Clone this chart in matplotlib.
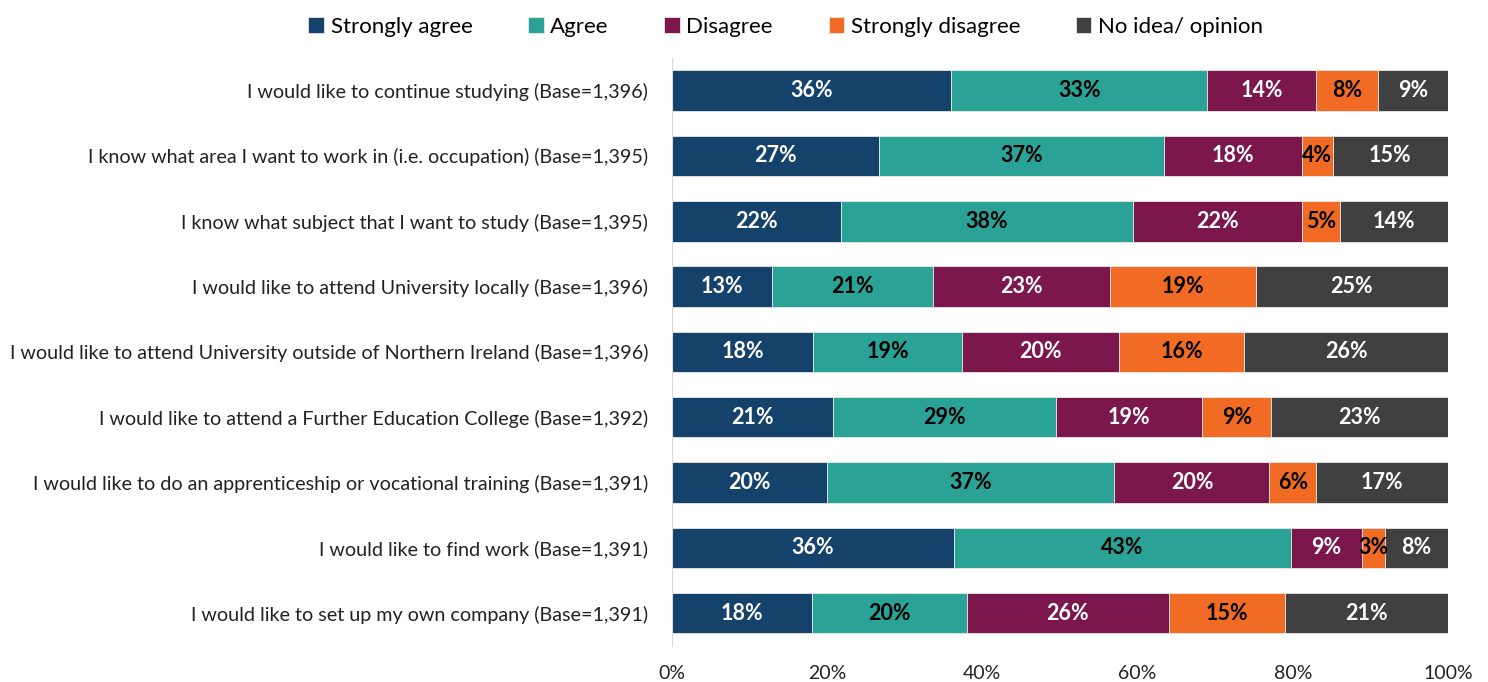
import numpy as np
import matplotlib.pyplot as plt
from matplotlib.ticker import PercentFormatter

plt.rcParams['font.family'] = ['Lato', 'DejaVu Sans']

categories = [
    "I would like to continue studying (Base=1,396)",
    "I know what area I want to work in (i.e. occupation) (Base=1,395)",
    "I know what subject that I want to study (Base=1,395)",
    "I would like to attend University locally (Base=1,396)",
    "I would like to attend University outside of Northern Ireland (Base=1,396)",
    "I would like to attend a Further Education College (Base=1,392)",
    "I would like to do an apprenticeship or vocational training (Base=1,391)",
    "I would like to find work (Base=1,391)",
    "I would like to set up my own company (Base=1,391)",
]
series_names = ["Strongly agree", "Agree", "Disagree", "Strongly disagree", "No idea/ opinion"]
strongly_agree = [36, 27, 22, 13, 18, 21, 20, 36, 18]
agree = [33, 37, 38, 21, 19, 29, 37, 43, 20]
disagree = [14, 18, 22, 23, 20, 19, 20, 9, 26]
strongly_disagree = [8, 4, 5, 19, 16, 9, 6, 3, 15]
no_idea = [9, 15, 14, 25, 26, 23, 17, 8, 21]

colors = ["#15426B", "#2AA396", "#7B174D", "#F26B25", "#404040"]
text_colors = ["white", "black", "white", "black", "white"]

data = np.array([strongly_agree, agree, disagree, strongly_disagree, no_idea], dtype=float)
shares = data / data.sum(axis=0) * 100

fig = plt.figure(figsize=(14.88, 6.82), dpi=100)
ax = fig.add_axes([0.4516, 0.053, 0.5215, 0.862])

y = np.arange(len(categories))
left = np.zeros(len(categories))
for i, name in enumerate(series_names):
    ax.barh(y, shares[i], left=left, height=0.62, color=colors[i],
            edgecolor="#e8e8e8", linewidth=0.6, label=name)
    for j in range(len(categories)):
        ax.text(left[j] + shares[i][j] / 2, y[j], f"{int(data[i][j])}%",
                ha="center", va="center", color=text_colors[i],
                fontsize=15.5, fontweight="bold")
    left += shares[i]

ax.set_xlim(0, 100)
ax.set_ylim(len(categories) - 0.5, -0.5)
ax.set_yticks(y)
ax.set_yticklabels(categories, fontsize=14.2, color="#222222")
ax.xaxis.set_major_formatter(PercentFormatter(decimals=0))
ax.set_xticks([0, 20, 40, 60, 80, 100])
ax.tick_params(axis="x", length=0, pad=14, labelsize=14, labelcolor="#222222")
ax.tick_params(axis="y", length=0, pad=17)
for s in ["top", "right", "bottom"]:
    ax.spines[s].set_visible(False)
ax.spines["left"].set_color("#d9d9d9")

fig.legend(loc="upper center", bbox_to_anchor=(0.528, 1.005), ncol=5, frameon=False,
           fontsize=16, handlelength=0.7, handleheight=0.7, handletextpad=0.3,
           columnspacing=2.5)

fig.savefig("out.png", dpi=100)
